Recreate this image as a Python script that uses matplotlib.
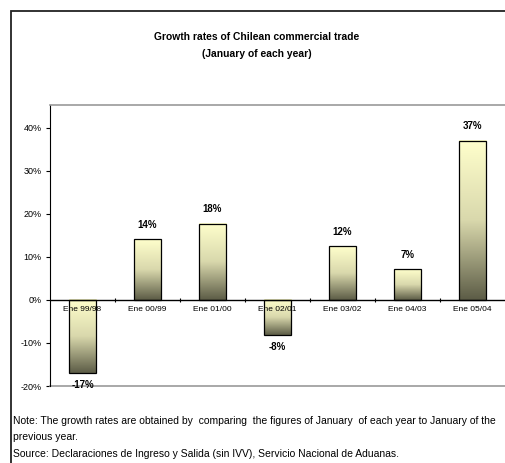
import numpy as np
import matplotlib
matplotlib.use("Agg")
import matplotlib.pyplot as plt
from matplotlib import font_manager
from matplotlib.colors import LinearSegmentedColormap
from matplotlib.patches import Rectangle

names = {f.name for f in font_manager.fontManager.ttflist}
if "Liberation Sans Narrow" in names:
    plt.rcParams["font.family"] = ["Liberation Sans Narrow", "DejaVu Sans"]
else:
    plt.rcParams["font.family"] = ["Liberation Sans", "DejaVu Sans"]

categories = ["Ene 99/98", "Ene 00/99", "Ene 01/00", "Ene 02/01",
              "Ene 03/02", "Ene 04/03", "Ene 05/04"]
growth = [-17.0, 14.1, 17.7, -8.2, 12.5, 7.1, 37.0]
labels = ["-17%", "14%", "18%", "-8%", "12%", "7%", "37%"]
yticks = [-20, -10, 0, 10, 20, 30, 40]

fig = plt.figure(figsize=(5.05, 4.63), dpi=100)

# outer frame
fig.add_artist(Rectangle((11 / 505, -0.05), 1.0, 1 - 11 / 463 + 0.05,
                         transform=fig.transFigure, fill=False,
                         edgecolor="#222222", linewidth=1.3))

ax = fig.add_axes([50 / 505, 1 - 386 / 463, 455 / 505, (386 - 105) / 463])
ax.set_xlim(-0.5, 6.5)
ax.set_ylim(-20, 45.3)

cmap = LinearSegmentedColormap.from_list("olive", ["#ffffcc", "#d9d8ac", "#5c5c46"])
grad = np.linspace(0, 1, 256).reshape(-1, 1)
width = 0.43

bars = ax.bar(range(len(growth)), growth, width=width, color="none",
              edgecolor="black", linewidth=0.9, zorder=3)
for b in bars:
    x0, y0 = b.get_x(), b.get_y()
    w, h = b.get_width(), b.get_height()
    lo, hi = min(y0, y0 + h), max(y0, y0 + h)
    ax.imshow(grad, cmap=cmap, aspect="auto", extent=(x0, x0 + w, lo, hi),
              origin="upper", zorder=2, interpolation="bilinear")

for i, (v, lab) in enumerate(zip(growth, labels)):
    if v >= 0:
        ax.text(i, v + 2.2, lab, ha="center", va="bottom", fontsize=7,
                fontweight="bold", zorder=4)
    else:
        ax.text(i, v - 1.5, lab, ha="center", va="top", fontsize=7,
                fontweight="bold", zorder=4)

ax.axhline(0, color="black", linewidth=1.0, zorder=4)
ax.set_xticks(np.arange(0.5, 6.5, 1.0))
ax.set_xticklabels([])
ax.tick_params(axis="x", length=3, direction="inout", width=0.8)
ax.spines["bottom"].set_position(("data", 0))
ax.spines["bottom"].set_visible(False)
for i, c in enumerate(categories):
    ax.text(i, -1.5, c, ha="center", va="top", fontsize=6, zorder=5)

ax.set_yticks(yticks)
ax.set_yticklabels([f"{t}%" for t in yticks], fontsize=6.5)
ax.tick_params(axis="y", length=3, width=0.8, pad=3)
ax.spines["left"].set_color("black")
ax.spines["top"].set_color("#999999")
ax.spines["top"].set_linewidth(1.2)
ax.spines["right"].set_visible(False)
ax.axhline(-20, color="#999999", linewidth=1.2, clip_on=False)

fig.text(257 / 505, 1 - 37 / 463, "Growth rates of Chilean commercial trade",
         ha="center", va="center", fontsize=7.4, fontweight="bold")
fig.text(257 / 505, 1 - 54 / 463, "(January of each year)",
         ha="center", va="center", fontsize=7.4, fontweight="bold")

notes = ["Note: The growth rates are obtained by  comparing  the figures of January  of each year to January of the",
         "previous year.",
         "Source: Declaraciones de Ingreso y Salida (sin IVV), Servicio Nacional de Aduanas."]
for k, line in enumerate(notes):
    fig.text(13 / 505, 1 - (421 + 16.5 * k) / 463, line, ha="left", va="center",
             fontsize=7.5)

fig.savefig("out.png", dpi=100)
